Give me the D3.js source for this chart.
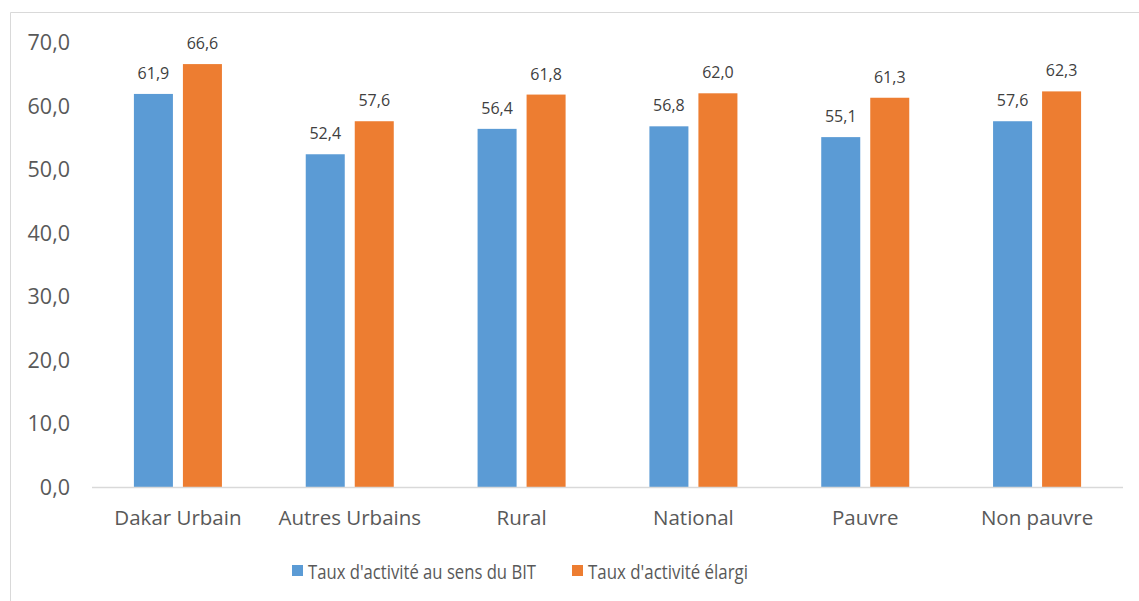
<!DOCTYPE html>
<html>
<head>
<meta charset="utf-8">
<script src="https://cdn.jsdelivr.net/npm/d3@7"></script>
<style>
  html, body { margin: 0; padding: 0; background: #fff; }
  svg { display: block; font-family: "Open Sans", sans-serif; }
</style>
</head>
<body>
<svg id="chart" width="1139" height="601"></svg>
<script>
const categories = ["Dakar Urbain", "Autres Urbains", "Rural", "National", "Pauvre", "Non pauvre"];
const seriesNames = ["Taux d'activité au sens du BIT", "Taux d'activité élargi"];
const bitValues = [61.9, 52.4, 56.4, 56.8, 55.1, 57.6];
const elargiValues = [66.6, 57.6, 61.8, 62.0, 61.3, 62.3];
const yTicks = [0, 10, 20, 30, 40, 50, 60, 70];
const colors = ["#5B9BD5", "#ED7D31"];

const svg = d3.select("#chart");
const textColor = "#595959";
const fmt = v => v.toFixed(1).replace(".", ",");

// chart border
svg.append("path")
  .attr("d", "M10.5,601 V12.5 H1139")
  .attr("fill", "none").attr("stroke", "#D9D9D9").attr("stroke-width", 1);

const x0 = d3.scaleBand().domain(categories).range([92, 1123]).padding(0);
const x1 = d3.scaleBand().domain(seriesNames).range([0, x0.bandwidth()])
  .paddingInner(0.204).paddingOuter(0.855);
const y = d3.scaleLinear().domain([0, 70]).range([487, 42.5]);

// y tick labels
svg.append("g").selectAll("text").data(yTicks).join("text")
  .attr("x", 70).attr("y", d => y(d))
  .attr("dy", "0.35em")
  .attr("text-anchor", "end")
  .attr("font-size", 21.5)
  .attr("fill", textColor)
  .text(fmt);

const rows = categories.map((c, i) => ({ cat: c, vals: [bitValues[i], elargiValues[i]] }));

const groups = svg.append("g").selectAll("g").data(rows).join("g")
  .attr("transform", d => `translate(${x0(d.cat)},0)`);

groups.selectAll("rect").data(d => d.vals.map((v, j) => ({ s: seriesNames[j], v, j })))
  .join("rect")
  .attr("x", d => x1(d.s))
  .attr("width", x1.bandwidth())
  .attr("y", d => y(d.v))
  .attr("height", d => y(0) - y(d.v))
  .attr("fill", d => colors[d.j]);

groups.selectAll("text.lbl").data(d => d.vals.map((v, j) => ({ s: seriesNames[j], v, j })))
  .join("text").attr("class", "lbl")
  .attr("x", d => x1(d.s) + x1.bandwidth() / 2)
  .attr("y", d => y(d.v) - 15)
  .attr("text-anchor", "middle")
  .attr("font-size", 16)
  .attr("fill", "#404040")
  .text(d => fmt(d.v));

// x axis line
svg.append("line")
  .attr("x1", 92).attr("x2", 1123)
  .attr("y1", y(0) + 0.5).attr("y2", y(0) + 0.5)
  .attr("stroke", "#D9D9D9").attr("stroke-width", 1.5);

// category labels
svg.append("g").selectAll("text").data(categories).join("text")
  .attr("x", d => x0(d) + x0.bandwidth() / 2)
  .attr("y", 525)
  .attr("text-anchor", "middle")
  .attr("font-size", 20.5)
  .attr("fill", textColor)
  .text(d => d);

// legend
const legendPos = [292, 572];
const legendTextLen = [228, 160];
const legend = svg.append("g").selectAll("g").data(seriesNames).join("g")
  .attr("transform", (d, i) => `translate(${legendPos[i]},0)`);
legend.append("rect")
  .attr("x", 0).attr("y", 565).attr("width", 11).attr("height", 11)
  .attr("fill", (d, i) => colors[i]);
legend.append("text")
  .attr("x", 16).attr("y", 579)
  .attr("font-size", 19.5)
  .attr("fill", textColor)
  .attr("textLength", (d, i) => legendTextLen[i])
  .attr("lengthAdjust", "spacingAndGlyphs")
  .text(d => d);
</script>
</body>
</html>
